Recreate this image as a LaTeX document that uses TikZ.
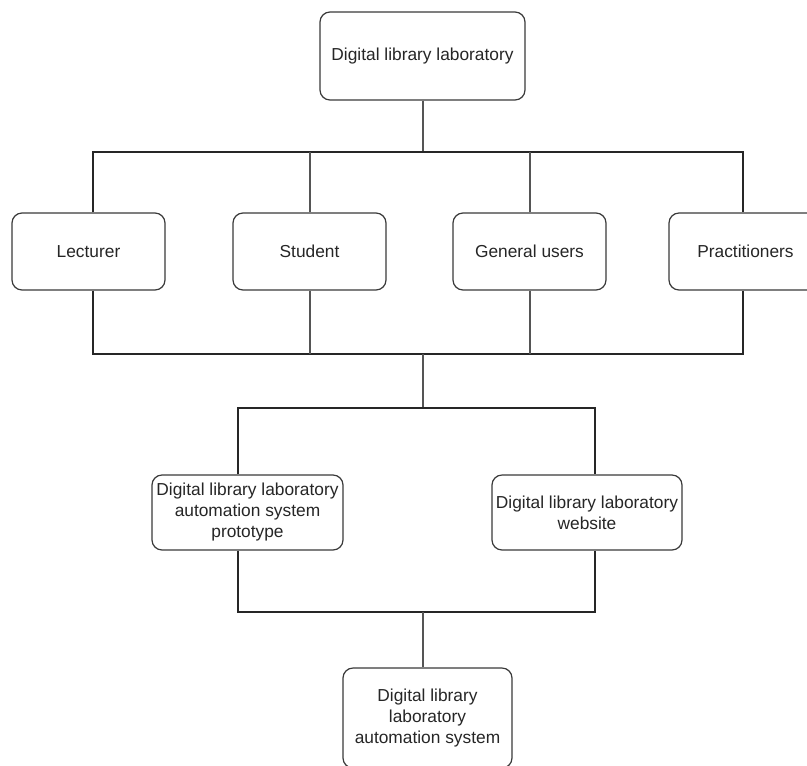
\documentclass[tikz,border=0pt]{standalone}
\usepackage{fontspec}
\setmainfont{Liberation Sans}
\definecolor{boxc}{HTML}{3A3A3A}
\definecolor{barc}{HTML}{262626}
\definecolor{stemc}{HTML}{555555}
\begin{document}
\begin{tikzpicture}[x=0.75pt,y=-0.75pt,
  box/.style={draw=boxc, line width=0.9pt, rounded corners=7.5pt, fill=white,
    align=center, inner sep=0pt, text=black!85,
    font=\fontsize{13}{15.75}\selectfont},
  bar/.style={draw=barc, line width=1.6pt, line join=miter},
  stem/.style={draw=stemc, line width=0.8pt}]
\useasboundingbox (0,0) rectangle (807,765);
\clip (0,0) rectangle (807,765);

\node[box, minimum width=153.75pt, minimum height=66pt] (top) at (422.5,56) {Digital library laboratory};
\node[box, minimum width=114.75pt, minimum height=57.75pt] (lec) at (88.5,251.5) {Lecturer};
\node[box, minimum width=114.75pt, minimum height=57.75pt] (stu) at (309.5,251.5) {Student};
\node[box, minimum width=114.75pt, minimum height=57.75pt] (gen) at (529.5,251.5) {General users};
\node[box, minimum width=114.75pt, minimum height=57.75pt] (pra) at (745.5,251.5) {Practitioners};
\node[box, minimum width=143.25pt, minimum height=56.25pt] (pro) at (247.5,512.5) {Digital library laboratory\\automation system\\prototype};
\node[box, minimum width=142.5pt, minimum height=56.25pt] (web) at (587,512.5) {Digital library laboratory\\website};
\node[box, minimum width=126.75pt, minimum height=75pt] (sys) at (427.5,718) {Digital library\\laboratory\\automation system};

\coordinate (j1) at (423,152);
\coordinate (a1) at (93,152);
\coordinate (a2) at (743,152);
\coordinate (b1) at (93,354);
\coordinate (b2) at (743,354);
\coordinate (j2) at (423,354);
\coordinate (j3) at (423,408);
\coordinate (c1) at (238,408);
\coordinate (c2) at (595,408);
\coordinate (d1) at (238,612);
\coordinate (d2) at (595,612);
\coordinate (j4) at (423,612);

\draw[stem] (top.south -| j1) -- (j1);
\draw[bar] (lec.north -| a1) -- (a1) -- (a2) -- (pra.north -| a2);
\draw[stem] (stu.north -| 310,0) -- (a1 -| 310,0);
\draw[stem] (gen.north -| 530,0) -- (a1 -| 530,0);

\draw[bar] (lec.south -| b1) -- (b1) -- (b2) -- (pra.south -| b2);
\draw[stem] (stu.south -| 310,0) -- (b1 -| 310,0);
\draw[stem] (gen.south -| 530,0) -- (b1 -| 530,0);

\draw[stem] (j2) -- (j3);
\draw[bar] (pro.north -| c1) -- (c1) -- (c2) -- (web.north -| c2);
\draw[bar] (pro.south -| d1) -- (d1) -- (d2) -- (web.south -| d2);
\draw[stem] (j4) -- (sys.north -| j4);
\end{tikzpicture}
\end{document}
